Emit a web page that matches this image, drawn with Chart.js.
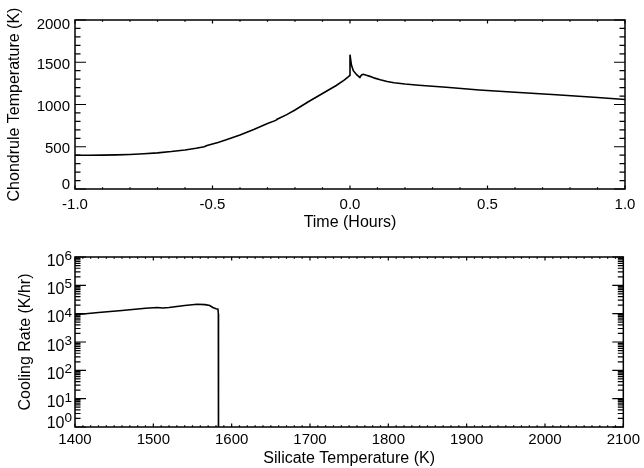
<!DOCTYPE html>
<html>
<head>
<meta charset="utf-8">
<script src="https://cdn.jsdelivr.net/npm/chart.js@4.4.0/dist/chart.umd.min.js"></script>
<style>
  html, body { margin: 0; padding: 0; background: #fff; }
  .panel { position: absolute; left: 0; width: 644px; height: 234px; }
  #top { top: 0; }
  #bot { top: 234px; }
</style>
</head>
<body>
<div class="panel" id="top"><canvas id="tempChart" width="644" height="234"></canvas></div>
<div class="panel" id="bot"><canvas id="coolChart" width="644" height="234"></canvas></div>
<script>
// top panel - chondrule temperature vs time
const timeHours = [-1.0, -0.95, -0.9, -0.85, -0.8, -0.75, -0.7, -0.65, -0.6, -0.56, -0.53, -0.52, -0.48,
  -0.45, -0.4, -0.35, -0.3, -0.27, -0.265, -0.23, -0.2, -0.15, -0.1, -0.05, -0.02, 0.0,
  0.0, 0.005, 0.012, 0.025, 0.036, 0.042, 0.048, 0.06, 0.075, 0.09, 0.11, 0.135, 0.16, 0.2,
  0.25, 0.3, 0.35, 0.47, 0.6, 0.75, 0.9, 1.0];
const chondruleTemp = [400, 400, 401, 404, 409, 417, 428, 443, 462, 482, 500, 515, 550,
  582, 640, 705, 775, 812, 825, 880, 935, 1035, 1130, 1225, 1292, 1345,
  1590, 1470, 1400, 1350, 1320, 1350, 1358, 1345, 1330, 1312, 1292, 1272, 1258, 1243,
  1228, 1216, 1205, 1172, 1145, 1115, 1082, 1060];
const timeTicks = [-1.0, -0.5, 0.0, 0.5, 1.0];
const tempTicks = [0, 500, 1000, 1500, 2000];

// bottom panel - cooling rate vs silicate temperature
const silicateTemp = [1400, 1430, 1460, 1490, 1505, 1512, 1520, 1540, 1556, 1566, 1572, 1576, 1580, 1582.5, 1583, 1583.2];
const coolingRate = [9100, 11000, 12900, 15500, 16600, 15800, 16600, 19500, 21400, 20900, 19500, 16600, 14800, 14500, 10000, 0.01];
const silicateTicks = [1400, 1500, 1600, 1700, 1800, 1900, 2000, 2100];
const rateExponents = [0, 1, 2, 3, 4, 5, 6];

const FONT = "'Liberation Sans', Arial, Helvetica, sans-serif";
Chart.defaults.font.family = FONT;
Chart.defaults.font.size = 15;
Chart.defaults.color = '#000';

function steps(from, to, step) {
  const out = [];
  for (let v = from; v <= to + step / 1000; v += step) out.push(Math.round(v * 1000) / 1000);
  return out;
}

// IDL style box: inward ticks on all four sides + y tick labels
const idlBox = {
  id: 'idlBox',
  afterDatasetsDraw(chart, args, o) {
    const { ctx, chartArea: a } = chart;
    const xs = chart.scales.x, ys = chart.scales.y;
    ctx.save();
    ctx.strokeStyle = '#000';
    ctx.lineWidth = 1.5;
    ctx.strokeRect(a.left, a.top, a.right - a.left, a.bottom - a.top);
    ctx.lineWidth = 1.2;
    ctx.beginPath();
    const xt = (vals, len) => vals.forEach(v => {
      const px = xs.getPixelForValue(v);
      ctx.moveTo(px, a.bottom); ctx.lineTo(px, a.bottom - len);
      ctx.moveTo(px, a.top); ctx.lineTo(px, a.top + len);
    });
    const yt = (vals, len) => vals.forEach(v => {
      const py = ys.getPixelForValue(v);
      ctx.moveTo(a.left, py); ctx.lineTo(a.left + len, py);
      ctx.moveTo(a.right, py); ctx.lineTo(a.right - len, py);
    });
    xt(o.xMinor, 1.8); xt(o.xMajor, 3.5);
    yt(o.yMinor, 5.5); yt(o.yMajor, 11);
    ctx.stroke();

    ctx.fillStyle = '#000';
    ctx.textAlign = 'right';
    ctx.textBaseline = 'alphabetic';
    const n = o.yMajor.length;
    o.yMajor.forEach((v, i) => {
      const dy = i === 0 ? o.dy[0] : (i === n - 1 ? o.dy[2] : o.dy[1]);
      const yc = ys.getPixelForValue(v) + dy;
      if (o.exp) {
        const e = String(o.exp[i]);
        ctx.font = '13.5px ' + FONT;
        const ew = ctx.measureText(e).width;
        ctx.fillText(e, a.left - 3, yc);
        ctx.font = '16px ' + FONT;
        ctx.fillText('10', a.left - 3 - ew, yc + 5.8);
      } else {
        ctx.font = '15px ' + FONT;
        ctx.fillText(String(v), a.left - 5, yc + 5.4);
      }
    });
    ctx.restore();
  }
};

const common = {
  responsive: false,
  animation: false,
  events: []
};
const titleFont = { size: 16 };

new Chart(document.getElementById('tempChart'), {
  type: 'line',
  data: {
    datasets: [{
      data: timeHours.map((t, i) => ({ x: t, y: chondruleTemp[i] })),
      borderColor: '#000',
      borderWidth: 1.6,
      pointRadius: 0,
      tension: 0,
      fill: false
    }]
  },
  options: {
    ...common,
    layout: { padding: { top: 20, right: 19, left: 0, bottom: 0 } },
    plugins: {
      legend: { display: false },
      tooltip: { enabled: false },
      idlBox: {
        xMajor: timeTicks, xMinor: steps(-1, 1, 0.1),
        yMajor: tempTicks, yMinor: steps(0, 2000, 100),
        dy: [-5, 1, 4]
      }
    },
    scales: {
      x: {
        type: 'linear', min: -1, max: 1,
        afterBuildTicks: s => { s.ticks = timeTicks.map(v => ({ value: v })); },
        ticks: { padding: 7, maxRotation: 0, autoSkip: false, callback: v => v.toFixed(1) },
        grid: { display: false, drawTicks: false },
        border: { display: false },
        title: { display: true, text: 'Time (Hours)', font: titleFont, padding: { top: 0, bottom: 2 } },
        afterFit: s => { s.height = 45; }
      },
      y: {
        type: 'linear', min: 0, max: 2000,
        ticks: { display: false },
        grid: { display: false, drawTicks: false },
        border: { display: false },
        title: { display: true, text: 'Chondrule Temperature (K)', font: titleFont, padding: { top: 5, bottom: 0 } },
        afterFit: s => { s.width = 75; }
      }
    }
  },
  plugins: [idlBox]
});

const rateMinor = [];
rateExponents.slice(0, -1).forEach(e => { for (let m = 2; m <= 9; m++) rateMinor.push(m * Math.pow(10, e)); });

new Chart(document.getElementById('coolChart'), {
  type: 'line',
  data: {
    datasets: [{
      data: silicateTemp.map((t, i) => ({ x: t, y: coolingRate[i] })),
      borderColor: '#000',
      borderWidth: 1.6,
      pointRadius: 0,
      tension: 0,
      fill: false
    }]
  },
  options: {
    ...common,
    layout: { padding: { top: 23, right: 19, left: 0, bottom: 0 } },
    plugins: {
      legend: { display: false },
      tooltip: { enabled: false },
      idlBox: {
        xMajor: silicateTicks, xMinor: steps(1400, 2100, 10),
        yMajor: rateExponents.map(e => Math.pow(10, e)), yMinor: rateMinor,
        exp: rateExponents,
        dy: [-5, 3, 3]
      }
    },
    scales: {
      x: {
        type: 'linear', min: 1400, max: 2100,
        afterBuildTicks: s => { s.ticks = silicateTicks.map(v => ({ value: v })); },
        ticks: { padding: 4, maxRotation: 0, autoSkip: false, callback: v => String(v) },
        grid: { display: false, drawTicks: false },
        border: { display: false },
        title: { display: true, text: 'Silicate Temperature (K)', font: titleFont, padding: { top: 0, bottom: 0 } },
        afterFit: s => { s.height = 41; }
      },
      y: {
        type: 'logarithmic', min: 1, max: 1e6,
        ticks: { display: false },
        grid: { display: false, drawTicks: false },
        border: { display: false },
        title: { display: true, text: 'Cooling Rate (K/hr)', font: titleFont, padding: { top: 16, bottom: 0 } },
        afterFit: s => { s.width = 75; }
      }
    }
  },
  plugins: [idlBox]
});
</script>
</body>
</html>
